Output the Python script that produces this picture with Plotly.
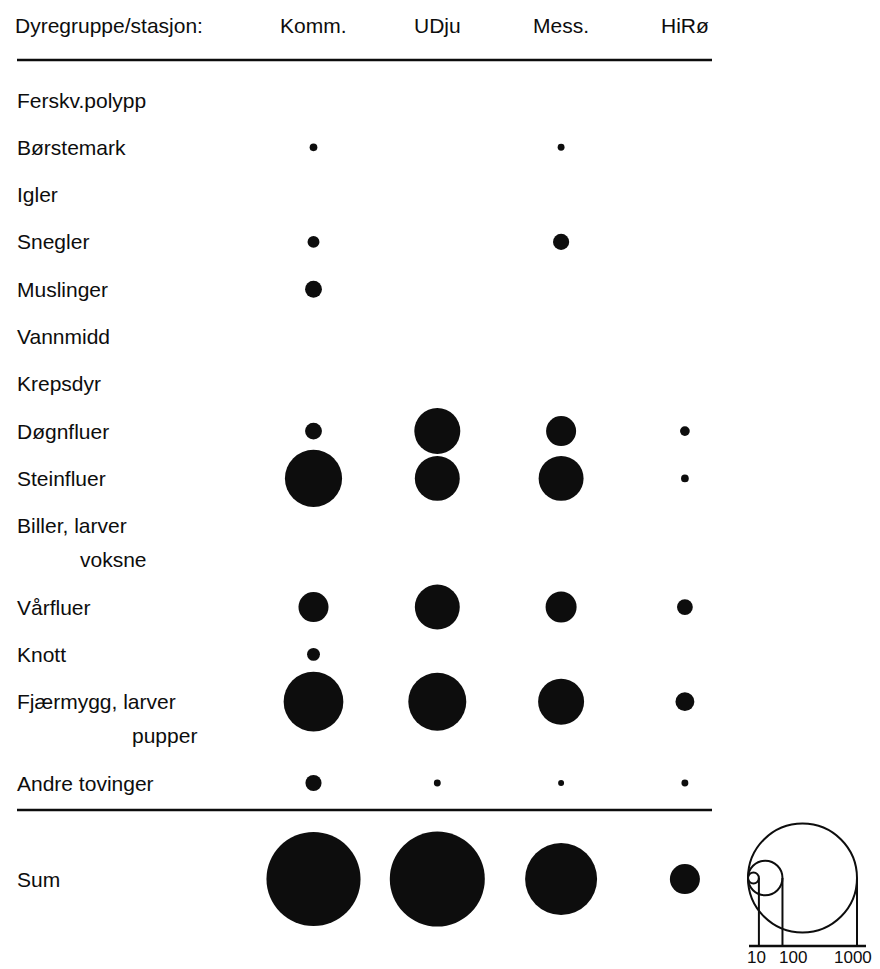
import plotly.graph_objects as go

# ---------------- data ----------------
stations = ["Komm.", "UDju", "Mess.", "HiRø"]
groups = ["Ferskv.polypp", "Børstemark", "Igler", "Snegler", "Muslinger",
          "Vannmidd", "Krepsdyr", "Døgnfluer", "Steinfluer", "Biller, larver",
          "voksne", "Vårfluer", "Knott", "Fjærmygg, larver", "pupper",
          "Andre tovinger"]
sub_rows = ["voksne", "pupper"]
komm = [None, 5, None, 12, 24, None, None, 24, 275, None, None, 76, 14, 300, None, 22]
udju = [None, None, None, None, None, None, None, 178, 170, None, None, 170, None, 283, None, 4]
mess = [None, 4, None, 22, None, None, None, 76, 170, None, None, 81, None, 178, None, 3]
hiro = [None, None, None, None, None, None, None, 8, 5, None, None, 21, None, 30, None, 4]
sums = [745, 760, 436, 76]
sum_label = "Sum"
header_label = "Dyregruppe/stasjon:"
legend_values = [10, 100, 1000]
legend_labels = ["10", "100", "1000"]

# ---------------- layout constants ----------------
W, H = 880, 969
ROW_PX = 47.3          # pixels per row unit
TOP_PX = 100           # pixel y of first row
SUB_STEP = 0.72
MAX_VAL, MAX_D = 1000, 109   # legend: 1000 -> 109 px diameter
FONT = "Liberation Sans, Arial, Helvetica, sans-serif"
INK = "#0d0d0d"
FS = 21
label_indent = {"voksne": 78, "pupper": 130}

ypos = []
acc = 0.0
for i, g in enumerate(groups):
    if i > 0:
        acc += SUB_STEP if g in sub_rows else 1.0
    ypos.append(acc)
y_sum = ypos[-1] + 2.03
y_header = (25 - TOP_PX) / ROW_PX
y_line1 = (60 - TOP_PX) / ROW_PX
y_line2 = (810 - TOP_PX) / ROW_PX

col0_px, col_step = 313.5, 123.8
sizeref = 2.0 * MAX_VAL / MAX_D ** 2

fig = go.Figure()
for st, vals in zip(stations, [komm, udju, mess, hiro]):
    xs, ys, ss = [], [], []
    for v, yv in zip(vals, ypos):
        if v is not None:
            xs.append(st); ys.append(yv); ss.append(v)
    fig.add_trace(go.Scatter(x=xs, y=ys, mode="markers",
                             marker=dict(size=ss, sizemode="area", sizeref=sizeref,
                                         color=INK, opacity=1, line=dict(width=0)),
                             hoverinfo="skip", showlegend=False))
fig.add_trace(go.Scatter(x=stations, y=[y_sum] * len(stations), mode="markers",
                         marker=dict(size=sums, sizemode="area", sizeref=sizeref,
                                     color=INK, opacity=1, line=dict(width=0)),
                         hoverinfo="skip", showlegend=False))

ann = []
def px_x(p):
    return p / W
def px_y(p):
    return 1 - p / H

ann.append(dict(x=px_x(13), xref="paper", y=y_header, yref="y", text=header_label,
                showarrow=False, xanchor="left", yanchor="middle",
                font=dict(size=FS, color=INK, family=FONT)))
for st in stations:
    ann.append(dict(x=st, xref="x", y=y_header, yref="y", text=st, showarrow=False,
                    xanchor="center", yanchor="middle",
                    font=dict(size=FS, color=INK, family=FONT)))
for g, yv in zip(groups, ypos):
    ann.append(dict(x=px_x(label_indent.get(g, 15)), xref="paper", y=yv, yref="y",
                    text=g, showarrow=False, xanchor="left", yanchor="middle",
                    font=dict(size=FS, color=INK, family=FONT)))
ann.append(dict(x=px_x(15), xref="paper", y=y_sum, yref="y", text=sum_label,
                showarrow=False, xanchor="left", yanchor="middle",
                font=dict(size=FS, color=INK, family=FONT)))

shapes = []
for yl in (y_line1, y_line2):
    shapes.append(dict(type="line", xref="paper", yref="y", x0=px_x(17), x1=px_x(712),
                       y0=yl, y1=yl, line=dict(color=INK, width=2.5)))

# legend (nested circles, same area scale as bubbles)
leg_left, leg_cy, leg_base = 748, 878, 946
label_px = [756, 793, 853]
for v, lab, lx in zip(legend_values, legend_labels, label_px):
    d = MAX_D * (v / MAX_VAL) ** 0.5
    shapes.append(dict(type="circle", xref="paper", yref="paper",
                       x0=px_x(leg_left), x1=px_x(leg_left + d),
                       y0=px_y(leg_cy + d / 2), y1=px_y(leg_cy - d / 2),
                       line=dict(color=INK, width=2)))
    shapes.append(dict(type="line", xref="paper", yref="paper",
                       x0=px_x(leg_left + d), x1=px_x(leg_left + d),
                       y0=px_y(leg_cy), y1=px_y(leg_base),
                       line=dict(color=INK, width=2)))
    ann.append(dict(x=px_x(lx), xref="paper", y=px_y(957), yref="paper", text=lab,
                    showarrow=False, xanchor="center", yanchor="middle",
                    font=dict(size=17, color=INK, family=FONT)))
shapes.append(dict(type="line", xref="paper", yref="paper",
                   x0=px_x(749), x1=px_x(866), y0=px_y(leg_base), y1=px_y(leg_base),
                   line=dict(color=INK, width=2.5)))

fig.update_layout(
    width=W, height=H, margin=dict(l=0, r=0, t=0, b=0),
    paper_bgcolor="white", plot_bgcolor="white",
    xaxis=dict(type="category", categoryorder="array", categoryarray=stations,
               range=[-col0_px / col_step, (W - col0_px) / col_step],
               visible=False, fixedrange=True),
    yaxis=dict(range=[(H - TOP_PX) / ROW_PX, -TOP_PX / ROW_PX],
               visible=False, fixedrange=True),
    annotations=ann, shapes=shapes, showlegend=False, hovermode=False,
)
fig.write_html("out.html", config={"displayModeBar": False},
               post_script="document.body.style.margin='0px';")
